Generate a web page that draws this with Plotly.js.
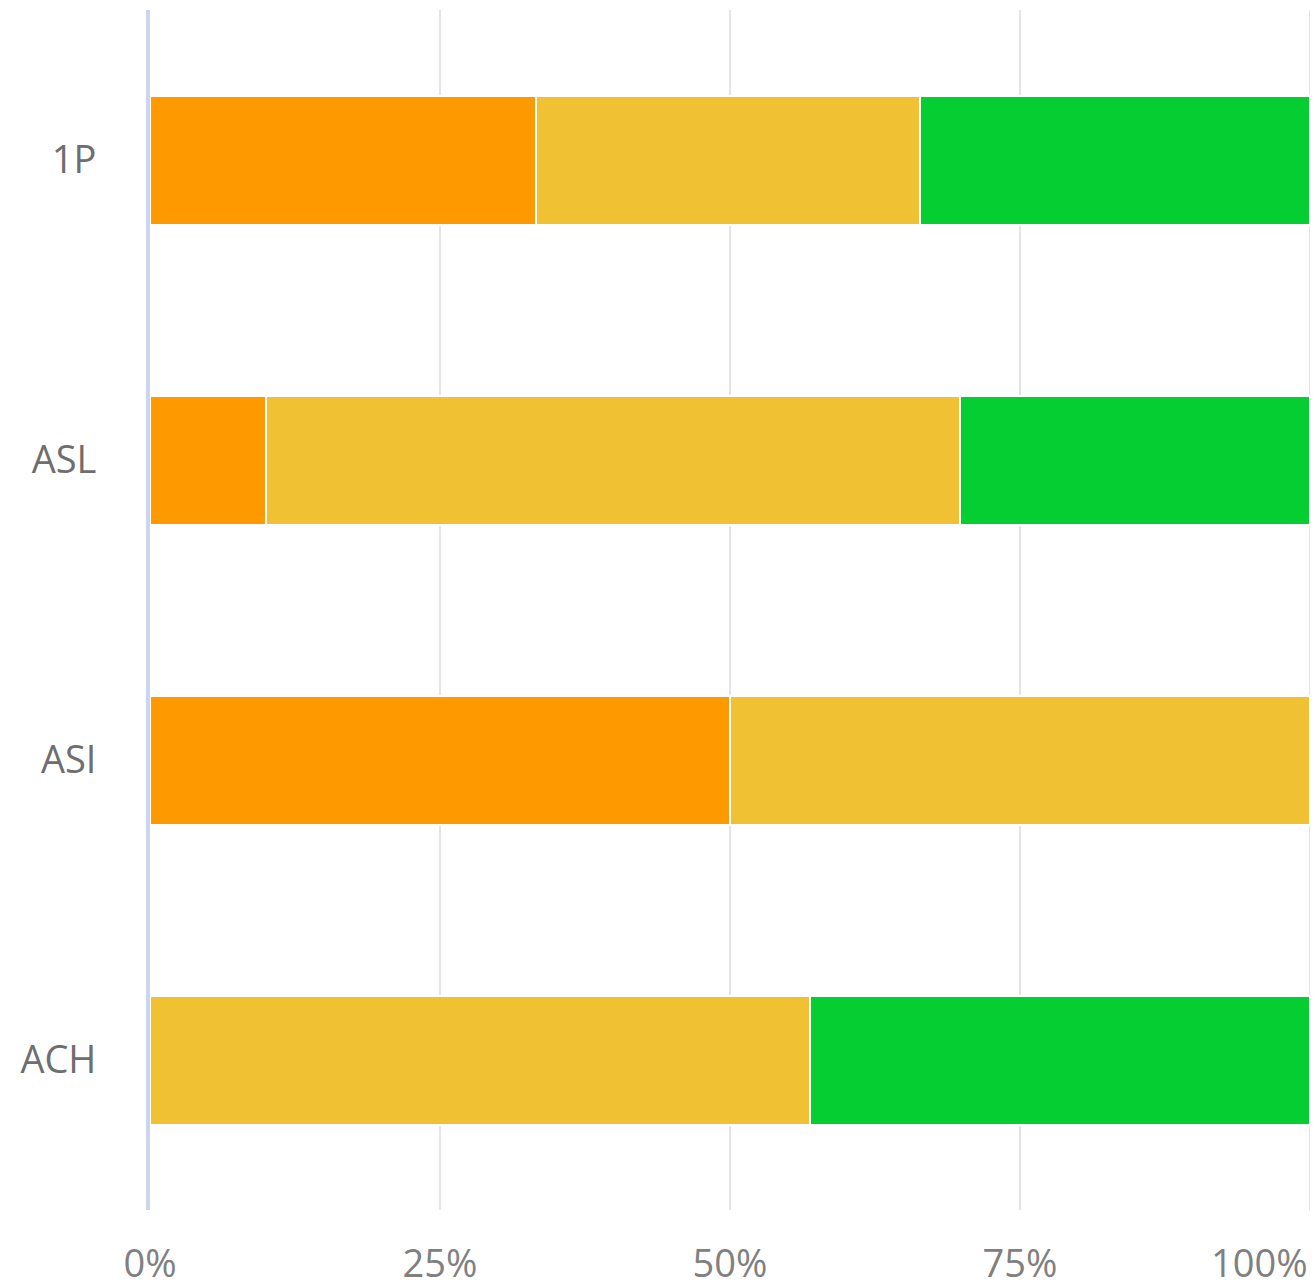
<!DOCTYPE html>
<html>
<head>
<meta charset="utf-8">
<script src="https://cdn.plot.ly/plotly-3.0.1.min.js"></script>
<style>html,body{margin:0;padding:0;background:#fff;}#chart{width:1316px;height:1288px;}</style>
</head>
<body>
<div id="chart"></div>
<script>
// Categories, top to bottom
const categories = ['1P', 'ASL', 'ASI', 'ACH'];
// Share of each category (percent)
const seriesOrange = [33.3, 10, 50, 0];
const seriesYellow = [33.1, 59.8, 50, 56.9];
const seriesGreen  = [33.6, 30.2, 0, 43.1];
const seriesNames = ['Orange', 'Yellow', 'Green'];
const seriesColors = ['#ff9900', '#f0c133', '#05ce32'];
const tickValues = [0, 25, 50, 75, 100];
const tickLabels = ['0%', '25%', '50%', '75%', '100%'];

const allSeries = [seriesOrange, seriesYellow, seriesGreen];
const traces = allSeries.map((vals, i) => ({
  type: 'bar',
  orientation: 'h',
  y: categories,
  x: vals,
  name: seriesNames[i],
  marker: { color: seriesColors[i], line: { color: '#ffffff', width: 2 } },
  hoverinfo: 'y+x+name'
}));

const lastIdx = tickValues.length - 1;
const layout = {
  width: 1316,
  height: 1288,
  margin: { l: 150, r: 6, t: 10, b: 78 },
  barmode: 'stack',
  bargap: 0.57,
  showlegend: false,
  paper_bgcolor: '#ffffff',
  plot_bgcolor: '#ffffff',
  font: { family: '"Open Sans", sans-serif', size: 38, color: '#707070' },
  xaxis: {
    range: [0, 100],
    tickvals: tickValues.slice(0, lastIdx),
    ticktext: tickLabels.slice(0, lastIdx),
    showgrid: true,
    gridcolor: '#e4e4e4',
    gridwidth: 2,
    zeroline: false,
    showline: false,
    ticks: '',
    ticklabelstandoff: 28,
    tickfont: { size: 38, color: '#808080' },
    fixedrange: true
  },
  yaxis: {
    type: 'category',
    categoryorder: 'array',
    categoryarray: categories,
    range: [3.5, -0.5],
    showgrid: false,
    zeroline: false,
    showline: true,
    linecolor: '#c9d6ec',
    linewidth: 4,
    ticks: '',
    ticklabelstandoff: 42,
    tickfont: { size: 38, color: '#6e6e6e' },
    fixedrange: true
  },
  shapes: [{
    type: 'line', xref: 'x', yref: 'paper',
    x0: tickValues[lastIdx], x1: tickValues[lastIdx], y0: 0, y1: 1,
    line: { color: '#e4e4e4', width: 2 }, layer: 'below'
  }],
  annotations: [{
    xref: 'x', yref: 'paper',
    x: tickValues[lastIdx], y: 0,
    xanchor: 'right', yanchor: 'top',
    yshift: -24,
    text: tickLabels[lastIdx],
    showarrow: false,
    font: { size: 38, color: '#808080' }
  }]
};

Plotly.newPlot('chart', traces, layout, { displayModeBar: false, staticPlot: true });
</script>
</body>
</html>
